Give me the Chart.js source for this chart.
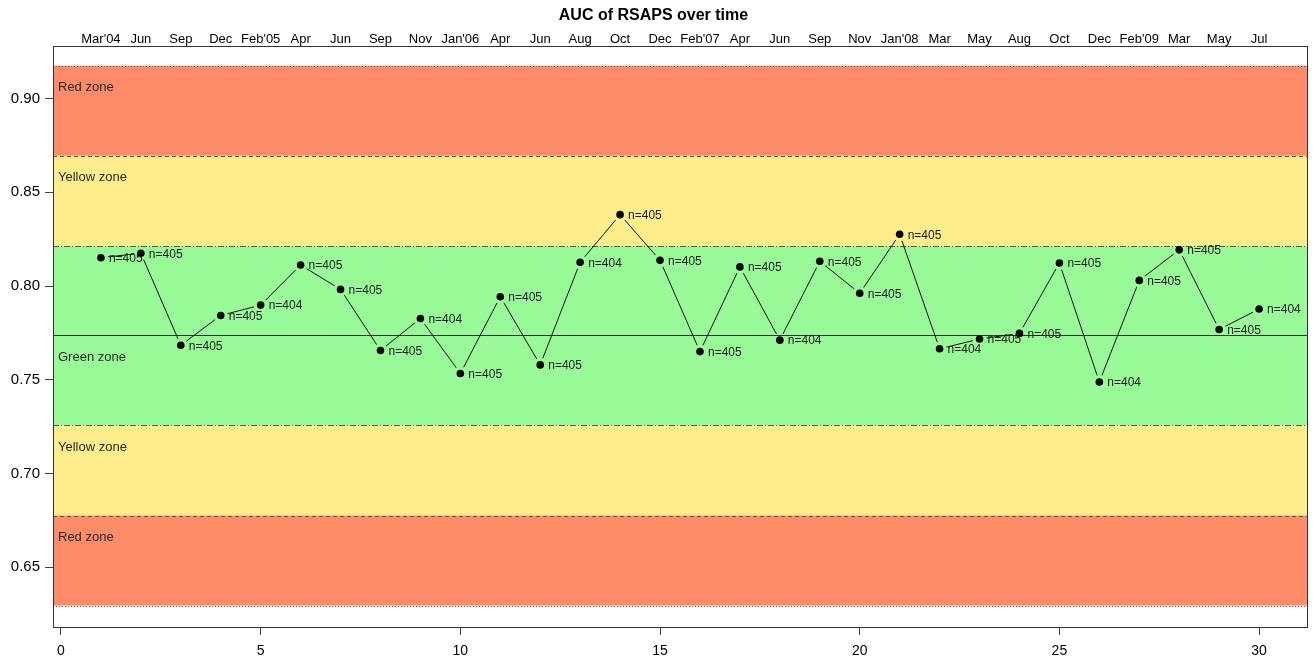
<!DOCTYPE html>
<html>
<head>
<meta charset="utf-8">
<script src="https://cdn.jsdelivr.net/npm/chart.js@4.4.1/dist/chart.umd.min.js"></script>
<style>
  html, body { margin: 0; padding: 0; background: #fff; }
  #wrap { width: 1314px; height: 660px; }
</style>
</head>
<body>
<div id="wrap"><canvas id="auc"></canvas></div>
<script>
// chart data
const periods = [1, 2, 3, 4, 5, 6, 7, 8, 9, 10, 11, 12, 13, 14, 15,
                 16, 17, 18, 19, 20, 21, 22, 23, 24, 25, 26, 27, 28, 29, 30];
const months = ["Mar'04", "Jun", "Sep", "Dec", "Feb'05", "Apr", "Jun", "Sep", "Nov", "Jan'06",
                "Apr", "Jun", "Aug", "Oct", "Dec", "Feb'07", "Apr", "Jun", "Sep", "Nov",
                "Jan'08", "Mar", "May", "Aug", "Oct", "Dec", "Feb'09", "Mar", "May", "Jul"];
const aucValues = [0.8151, 0.8175, 0.7684, 0.7843, 0.7898, 0.8112, 0.7982, 0.7656, 0.7827, 0.7533,
                   0.7943, 0.7579, 0.8127, 0.8381, 0.8137, 0.7650, 0.8102, 0.7711, 0.8132, 0.7961,
                   0.8276, 0.7665, 0.7717, 0.7747, 0.8123, 0.7488, 0.8030, 0.8193, 0.7768, 0.7877];
const sampleSizes = [405, 405, 405, 405, 404, 405, 405, 405, 404, 405,
                     405, 405, 404, 405, 405, 405, 405, 404, 405, 405,
                     405, 404, 405, 405, 405, 404, 405, 405, 405, 404];

// control zones (centre line and boundaries)
const centreLine = 0.7736;
const zoneNames = ["Red zone", "Yellow zone", "Green zone", "Yellow zone", "Red zone"];
const zoneTops = [0.9176, 0.8695, 0.8214, 0.7257, 0.6775];
const zoneBottoms = [0.8695, 0.8214, 0.7257, 0.6775, 0.6294];
const zoneColors = ['#FF8C69', '#FFEC8B', '#98FB98', '#FFEC8B', '#FF8C69'];
const zoneLabelY = [0.9060, 0.8578, 0.7620, 0.7140, 0.6658];
const boundaryValues = [0.9176, 0.8695, 0.8214, 0.7257, 0.6775, 0.6294];
const boundaryDash = [[1, 2], [4, 3], [6, 2, 1, 2], [6, 2, 1, 2], [4, 3], [1, 2]];

const yTicks = [0.65, 0.70, 0.75, 0.80, 0.85, 0.90];
const xTicks = [0, 5, 10, 15, 20, 25, 30];

const FONT = "'Liberation Sans', Arial, sans-serif";

/***************************************
 * Plugins
 ***************************************/
// colour bands, boundary lines and centre line behind the data
const zonesPlugin = {
    id: 'zones',
    beforeDatasetsDraw(chart) {
        const ctx = chart.ctx;
        const area = chart.chartArea;
        const y = chart.scales.y;
        ctx.save();
        for (let i = 0; i < zoneTops.length; i++) {
            const top = y.getPixelForValue(zoneTops[i]);
            const bottom = y.getPixelForValue(zoneBottoms[i]);
            ctx.fillStyle = zoneColors[i];
            ctx.fillRect(area.left, top, area.right - area.left, bottom - top);
        }
        ctx.strokeStyle = '#555';
        ctx.lineWidth = 1;
        boundaryValues.forEach((v, i) => {
            const py = Math.round(y.getPixelForValue(v)) + 0.5;
            ctx.setLineDash(boundaryDash[i]);
            ctx.beginPath();
            ctx.moveTo(area.left, py);
            ctx.lineTo(area.right, py);
            ctx.stroke();
        });
        ctx.setLineDash([]);
        ctx.strokeStyle = '#333';
        const cy = Math.round(y.getPixelForValue(centreLine)) + 0.5;
        ctx.beginPath();
        ctx.moveTo(area.left, cy);
        ctx.lineTo(area.right, cy);
        ctx.stroke();

        ctx.fillStyle = '#2a2a2a';
        ctx.font = '13px ' + FONT;
        ctx.textAlign = 'left';
        ctx.textBaseline = 'middle';
        zoneNames.forEach((name, i) => {
            ctx.fillText(name, area.left + 5, y.getPixelForValue(zoneLabelY[i]));
        });
        ctx.restore();
    }
};

// line segments with gaps round the points (R type="b"), n labels and the box
const overlayPlugin = {
    id: 'overlay',
    afterDatasetsDraw(chart) {
        const ctx = chart.ctx;
        const pts = chart.getDatasetMeta(0).data;
        const gap = 7;
        ctx.save();
        ctx.strokeStyle = '#111';
        ctx.lineWidth = 1;
        for (let i = 1; i < pts.length; i++) {
            const a = pts[i - 1], b = pts[i];
            const dx = b.x - a.x, dy = b.y - a.y;
            const len = Math.sqrt(dx * dx + dy * dy);
            if (len <= gap * 2) continue;
            const ux = dx / len, uy = dy / len;
            ctx.beginPath();
            ctx.moveTo(a.x + ux * gap, a.y + uy * gap);
            ctx.lineTo(b.x - ux * gap, b.y - uy * gap);
            ctx.stroke();
        }
        ctx.fillStyle = '#1a1a1a';
        ctx.font = '12px ' + FONT;
        ctx.textAlign = 'left';
        ctx.textBaseline = 'middle';
        pts.forEach((p, i) => {
            ctx.fillText('n=' + sampleSizes[i], p.x + 8, p.y + 1);
        });
        const area = chart.chartArea;
        ctx.strokeStyle = '#333';
        ctx.strokeRect(Math.round(area.left) + 0.5, Math.round(area.top) + 0.5,
                       Math.round(area.right - area.left), Math.round(area.bottom - area.top));
        ctx.restore();
    }
};

/***************************************
 * Chart
 ***************************************/
const aucCtx = document.getElementById('auc').getContext('2d');
const aucChart = new Chart(aucCtx, {
    type: 'scatter',
    data: {
        datasets: [{
            label: 'AUC',
            data: periods.map((p, i) => ({ x: p, y: aucValues[i] })),
            showLine: false,
            pointRadius: 3.8,
            pointBackgroundColor: '#000',
            pointBorderColor: '#000',
            pointBorderWidth: 0
        }]
    },
    options: {
        responsive: true,
        maintainAspectRatio: false,
        animation: false,
        layout: { padding: { left: 0, right: 7, top: 0, bottom: 0 } },
        plugins: {
            legend: { display: false },
            tooltip: { enabled: false },
            title: {
                display: true,
                text: 'AUC of RSAPS over time',
                color: '#000',
                font: { family: FONT, size: 16, weight: 'bold', lineHeight: 1.2 },
                padding: { top: 6, bottom: 0 }
            }
        },
        scales: {
            x: {
                type: 'linear',
                position: 'bottom',
                min: -0.2,
                max: 31.2,
                afterBuildTicks: axis => { axis.ticks = xTicks.map(v => ({ value: v })); },
                afterFit: axis => { axis.height = 33; },
                grid: { drawOnChartArea: false, drawTicks: true, tickLength: 8, tickColor: '#444' },
                border: { display: false },
                ticks: {
                    color: '#000',
                    font: { family: FONT, size: 14 },
                    padding: 8,
                    maxRotation: 0,
                    autoSkip: false
                }
            },
            x2: {
                type: 'linear',
                position: 'top',
                min: -0.2,
                max: 31.2,
                afterBuildTicks: axis => { axis.ticks = periods.map(v => ({ value: v })); },
                afterFit: axis => { axis.height = 21; },
                grid: { display: false, drawTicks: false },
                border: { display: false },
                ticks: {
                    color: '#000',
                    font: { family: FONT, size: 13 },
                    padding: -1,
                    maxRotation: 0,
                    autoSkip: false,
                    callback: v => months[periods.indexOf(v)]
                }
            },
            y: {
                type: 'linear',
                min: 0.618,
                max: 0.928,
                afterBuildTicks: axis => { axis.ticks = yTicks.map(v => ({ value: v })); },
                afterFit: axis => { axis.width = 53; },
                grid: { drawOnChartArea: false, drawTicks: true, tickLength: 8, tickColor: '#444' },
                border: { display: false },
                ticks: {
                    color: '#000',
                    font: { family: FONT, size: 15 },
                    padding: 5,
                    callback: v => v.toFixed(2)
                }
            }
        }
    },
    plugins: [zonesPlugin, overlayPlugin]
});
</script>
</body>
</html>
